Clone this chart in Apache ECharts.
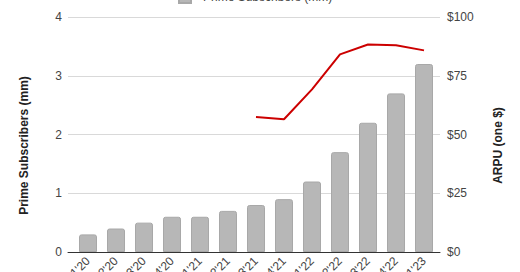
<!DOCTYPE html>
<html><head><meta charset="utf-8">
<script src="https://cdn.jsdelivr.net/npm/echarts@6/dist/echarts.min.js"></script>
<style>html,body{margin:0;padding:0;background:#fff}#c{width:520px;height:272px}</style>
</head><body><div id="c"></div>
<script>
const categories = ["Q1'20","Q2'20","Q3'20","Q4'20","Q1'21","Q2'21","Q3'21","Q4'21","Q1'22","Q2'22","Q3'22","Q4'22","Q1'23"];
const subscribers = [0.3,0.4,0.5,0.6,0.6,0.7,0.8,0.9,1.2,1.7,2.2,2.7,3.2];
const arpu = [null,null,null,null,null,null,57.4,56.5,69.2,84.1,88.3,88.0,85.8];
const leftTicks = [0,1,2,3,4];
const rightTicks = [0,25,50,75,100];

const FONT = '"Liberation Sans", Arial, sans-serif';
const chart = echarts.init(document.getElementById('c'), null, {renderer:'svg'});
chart.setOption({
  animation:false,
  textStyle:{fontFamily:FONT},
  legend:{
    top:-15, left:173, itemWidth:12, itemHeight:12,
    textStyle:{fontSize:12,color:'#444',fontFamily:FONT,padding:[0,0,0,7]},
    data:[{name:'Prime Subscribers (mm)',icon:'rect'}]
  },
  grid:[
    {left:68,right:80,top:17,bottom:20,containLabel:false,outerBoundsMode:'none'},
    {left:74,right:82,top:17,bottom:20,containLabel:false,outerBoundsMode:'none'}
  ],
  xAxis:[
    {type:'category',gridIndex:0,data:categories,
     axisLine:{show:true,lineStyle:{color:'#333',width:1}},
     axisTick:{show:false},axisLabel:{show:false},splitLine:{show:false}},
    {type:'category',gridIndex:1,data:categories,
     axisLine:{show:false},axisTick:{show:false},
     axisLabel:{rotate:45,margin:7,fontSize:12,color:'#444',fontFamily:FONT}}
  ],
  yAxis:[
    {type:'value',gridIndex:0,position:'left',min:leftTicks[0],max:leftTicks[leftTicks.length-1],interval:1,
     name:'Prime Subscribers (mm)',nameLocation:'middle',nameGap:38,
     nameTextStyle:{fontSize:12,fontWeight:'bold',color:'#222',fontFamily:FONT,padding:[0,22,0,0]},
     axisLine:{show:false},axisTick:{show:false},
     axisLabel:{margin:6,fontSize:12,color:'#444',fontFamily:FONT},
     splitLine:{show:true,lineStyle:{color:'#d9d9d9',width:1}}},
    {type:'value',gridIndex:0,position:'right',min:rightTicks[0],max:rightTicks[rightTicks.length-1],interval:25,
     name:'ARPU (one $)',nameLocation:'middle',nameGap:52,
     nameTextStyle:{fontSize:12,fontWeight:'bold',color:'#222',fontFamily:FONT,padding:[0,22,0,0]},
     axisLine:{show:false},axisTick:{show:false},
     axisLabel:{margin:7,fontSize:12,color:'#444',fontFamily:FONT,formatter:v=>'$'+v},
     splitLine:{show:false}},
    {type:'value',gridIndex:1,min:0,max:4,interval:1,show:false},
    {type:'value',gridIndex:1,min:0,max:100,interval:25,show:false}
  ],
  series:[
    {name:'Prime Subscribers (mm)',type:'bar',xAxisIndex:1,yAxisIndex:2,data:subscribers,barWidth:18,
     itemStyle:{color:'#b7b7b7',borderColor:'#a8a8a8',borderWidth:1,borderRadius:[2,2,0,0]}},
    {name:'ARPU (one $)',type:'line',xAxisIndex:1,yAxisIndex:3,data:arpu,symbol:'none',connectNulls:false,
     lineStyle:{color:'#cc0000',width:2},itemStyle:{color:'#cc0000'}}
  ]
});
</script></body></html>
